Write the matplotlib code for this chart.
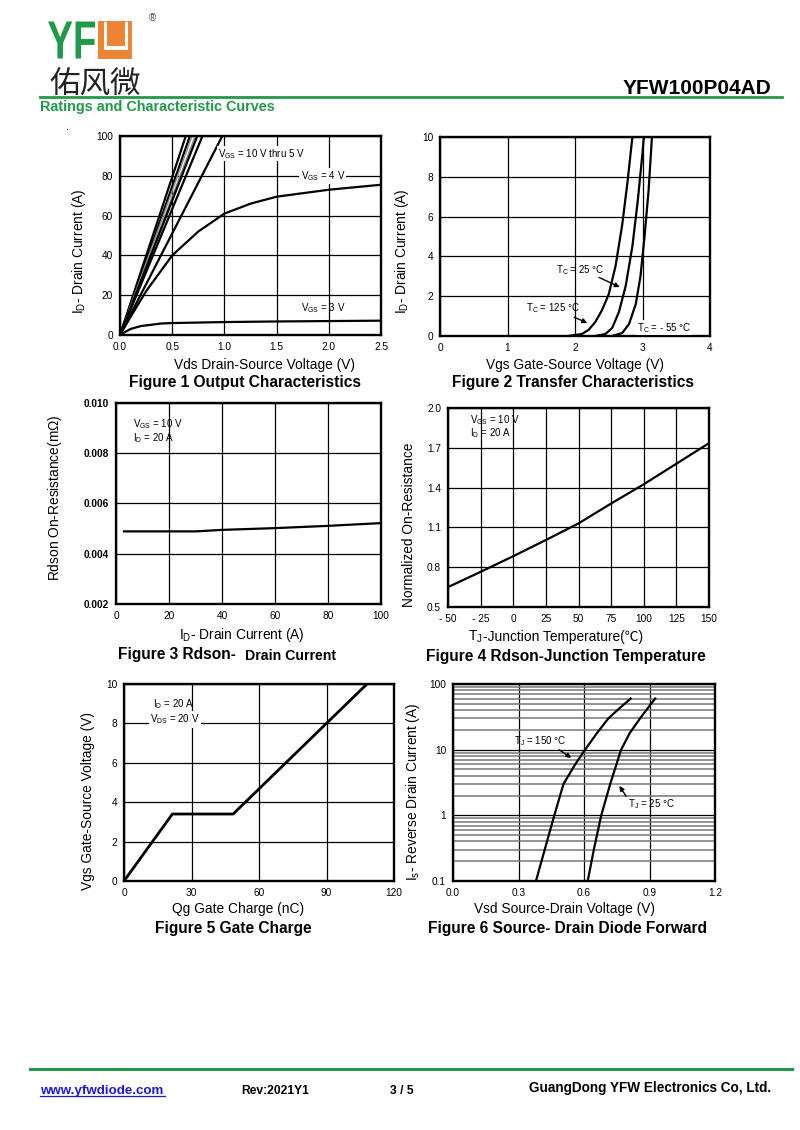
import matplotlib
matplotlib.use('Agg')
import matplotlib.pyplot as plt
import matplotlib.patches as mpatches
from matplotlib.ticker import FixedLocator, NullFormatter
from matplotlib.textpath import TextPath
from matplotlib.font_manager import FontProperties
from matplotlib.transforms import Affine2D, IdentityTransform
import numpy as np

# ─── Data ────────────────────────────────────────────────────────────────────
# Figure 1: output characteristics (Vds in V, Id in A)
F1_BUNDLE_VDS_END = [0.63, 0.67, 0.69, 0.72, 0.74, 0.79, 0.98]   # Vds where each line hits 100 A
F1_BUNDLE_GRAY    = [False, False, True, True, False, False, False]
F1_VGS4_VDS = [0, 0.1, 0.25, 0.5, 0.75, 1.0, 1.25, 1.5, 2.0, 2.5]
F1_VGS4_ID  = [0, 9, 22, 40, 52, 61, 66, 69.5, 73, 75.5]
F1_VGS3_VDS = [0, 0.1, 0.2, 0.4, 0.5, 1.0, 1.5, 2.0, 2.5]
F1_VGS3_ID  = [0, 3, 4.5, 5.8, 6.0, 6.5, 6.8, 7.0, 7.2]

# Figure 2: transfer characteristics (Vgs in V, Id in A)
F2_T125_VGS = [1.9, 2.1, 2.2, 2.3, 2.4, 2.5, 2.6, 2.7, 2.78, 2.85]
F2_T125_ID  = [0, 0.1, 0.3, 0.7, 1.3, 2.1, 3.5, 5.6, 7.8, 10]
F2_T25_VGS  = [2.3, 2.45, 2.55, 2.65, 2.75, 2.85, 2.93, 3.0, 3.02]
F2_T25_ID   = [0, 0.1, 0.4, 1.2, 2.5, 4.5, 6.8, 9.2, 10]
F2_TM55_VGS = [2.55, 2.7, 2.8, 2.9, 2.97, 3.03, 3.09, 3.14]
F2_TM55_ID  = [0, 0.15, 0.6, 1.6, 3.0, 5.0, 7.3, 10]

# Figure 3: Rdson vs drain current
F3_ID    = [3, 20, 30, 40, 60, 80, 100]
F3_RDSON = [0.00489, 0.00489, 0.00489, 0.00495, 0.00502, 0.00511, 0.00522]

# Figure 4: normalized Rdson vs junction temperature
F4_TJ   = [-50, -25, 0, 25, 50, 75, 100, 125, 150]
F4_NORM = [0.65, 0.765, 0.883, 1.005, 1.13, 1.28, 1.425, 1.58, 1.735]

# Figure 5: gate charge
F5_QG  = [0, 21.5, 48.5, 108]
F5_VGS = [0, 3.4, 3.4, 10]

# Figure 6: body diode forward (Vsd in V, Is in A)
F6_T150_VSD = [0.38, 0.42, 0.464, 0.506, 0.56, 0.605, 0.66, 0.712, 0.76, 0.814]
F6_T150_IS  = [0.1, 0.3, 1, 3, 6, 10, 18, 30, 42, 60]
F6_T25_VSD  = [0.617, 0.645, 0.679, 0.72, 0.77, 0.81, 0.857, 0.89, 0.926]
F6_T25_IS   = [0.1, 0.3, 1, 3, 10, 18, 30, 42, 60]

W, H = 800, 1130
GREEN = '#22984a'
ORANGE = '#ec8436'

plt.rcParams.update({
    "font.family": ["Liberation Sans", "DejaVu Sans"],
    "mathtext.fontset": "custom",
    "mathtext.rm": "Liberation Sans",
    "mathtext.it": "Liberation Sans",
    "mathtext.bf": "Liberation Sans:bold",
})

fig = plt.figure(figsize=(W / 100, H / 100), dpi=100)
fig.patch.set_facecolor('white')


def px(x, y):
    return x / W, 1 - y / H


def add_ax(x0, y0, x1, y1):
    return fig.add_axes([x0 / W, 1 - y1 / H, (x1 - x0) / W, (y1 - y0) / H])


def rect(x0, y0, x1, y1, color):
    # pixel box, y measured from the top
    fig.patches.append(mpatches.Rectangle(px(x0, y1), (x1 - x0) / W, (y1 - y0) / H,
                                          transform=fig.transFigure, facecolor=color,
                                          edgecolor='none'))


def style(ax):
    for s in ax.spines.values():
        s.set_linewidth(1.7)
        s.set_color('black')
    ax.grid(True, color='black', linewidth=0.9)
    ax.set_axisbelow(True)
    ax.tick_params(length=0, labelsize=7.3, pad=5)


def fig_text(x, y, s, **kw):
    return fig.text(*px(x, y), s, **kw)


# ─── Header / footer ─────────────────────────────────────────────────────────
# squeezed "YF" letters of the logo
tp = TextPath((0, 0), "YF", size=100, prop=FontProperties(family='Liberation Sans', weight='bold'))
bb = tp.get_extents()
sx, sy = 47 / bb.width, 37 / bb.height
tr = Affine2D().translate(-bb.x0, -bb.y0).scale(sx, sy).translate(48, H - 58.5)
fig.patches.append(mpatches.PathPatch(tp, transform=tr + IdentityTransform(),
                                      facecolor=GREEN, edgecolor='none'))
rect(98, 21.5, 132, 58.5, ORANGE)
rect(104, 21.5, 107.5, 49.5, 'white')
rect(124.5, 21.5, 128, 49.5, 'white')
rect(104, 46, 128, 49.5, 'white')
fig_text(152, 18, "®", fontsize=7, color='#444444', va='center', ha='center')
fig_text(49, 94, "佑风微", fontsize=22, family=['Noto Sans CJK SC'], color='#222222', va='baseline')
fig_text(771, 94, "YFW100P04AD", fontsize=15, fontweight='bold', ha='right', va='baseline')
fig.add_artist(plt.Line2D([40 / W, 782 / W], [1 - 97 / H] * 2, color=GREEN, linewidth=2))
fig_text(40, 111, "Ratings and Characteristic Curves", fontsize=10.4, fontweight='bold',
         color=GREEN, va='baseline')
fig_text(66, 130, ".", fontsize=8)

fig.add_artist(plt.Line2D([30 / W, 792 / W], [1 - 1069 / H] * 2, color=GREEN, linewidth=2.2))
fig_text(40, 1094, "www.yfwdiode.com", fontsize=9.6, fontweight='bold', color='#1a1adf',
         va='baseline')
fig.add_artist(plt.Line2D([40 / W, 165 / W], [1 - 1096 / H] * 2, color='#1a1adf', linewidth=0.9))
fig_text(241, 1094, "Rev:2021Y1", fontsize=8.7, fontweight='bold', va='baseline')
fig_text(390, 1094, "3 / 5", fontsize=8.7, fontweight='bold', va='baseline')
fig_text(771, 1092, "GuangDong YFW Electronics Co, Ltd.", fontsize=9.8, fontweight='bold',
         ha='right', va='baseline')

LABEL_FS = 9.9
TITLE_FS = 11.2

# ─── Figure 1 ────────────────────────────────────────────────────────────────
ax = add_ax(120, 136, 381, 335)
for xe, gray in zip(F1_BUNDLE_VDS_END, F1_BUNDLE_GRAY):
    ax.plot([0, xe], [0, 100], color='#8a8a8a' if gray else 'black',
            linewidth=1.0 if gray else 1.6)
ax.plot(F1_VGS4_VDS, F1_VGS4_ID, color='black', linewidth=1.6)
ax.plot(F1_VGS3_VDS, F1_VGS3_ID, color='black', linewidth=1.6)
ax.set_xlim(0, 2.5)
ax.set_ylim(0, 100)
ax.set_xticks([0, 0.5, 1.0, 1.5, 2.0, 2.5])
ax.set_xticklabels(["0.0", "0.5", "1.0", "1.5", "2.0", "2.5"])
ax.set_yticks([0, 20, 40, 60, 80, 100])
style(ax)
ax.text(0.94, 91, r"$\mathregular{V_{GS}}$ = 10 V thru 5 V", fontsize=7, va='center',
        bbox=dict(facecolor='white', edgecolor='none', pad=0.5))
ax.text(1.73, 80, r"$\mathregular{V_{GS}}$ = 4 V", fontsize=7, va='center',
        bbox=dict(facecolor='white', edgecolor='none', pad=1))
ax.text(1.73, 13.5, r"$\mathregular{V_{GS}}$ = 3 V", fontsize=7, va='center')
ax.set_xlabel("Vds Drain-Source Voltage (V)", fontsize=LABEL_FS, labelpad=4, x=0.552)
ax.set_ylabel(r"I$\mathregular{_D}$- Drain Current (A)", fontsize=LABEL_FS, labelpad=6, y=0.422)
fig_text(245, 383, "Figure 1 Output Characteristics", fontsize=TITLE_FS, fontweight='bold',
         ha='center', va='center')

# ─── Figure 2 ────────────────────────────────────────────────────────────────
ax = add_ax(440, 137, 710, 336)
ax.plot(F2_T125_VGS, F2_T125_ID, color='black', linewidth=1.6)
ax.plot(F2_T25_VGS, F2_T25_ID, color='black', linewidth=1.6)
ax.plot(F2_TM55_VGS, F2_TM55_ID, color='black', linewidth=1.6)
ax.set_xlim(0, 4)
ax.set_ylim(0, 10)
ax.set_xticks([0, 1, 2, 3, 4])
ax.set_yticks([0, 2, 4, 6, 8, 10])
style(ax)
ax.text(1.72, 3.3, r"T$\mathregular{_C}$ = 25 °C", fontsize=7, va='center')
ax.annotate("", xy=(2.7, 2.4), xytext=(2.32, 3.0),
            arrowprops=dict(arrowstyle='-|>', color='black', lw=1, mutation_scale=7))
ax.text(1.28, 1.4, r"T$\mathregular{_C}$ = 125 °C", fontsize=7, va='center')
ax.annotate("", xy=(2.22, 0.6), xytext=(1.95, 1.0),
            arrowprops=dict(arrowstyle='-|>', color='black', lw=1, mutation_scale=7))
ax.text(2.92, 0.42, r"T$\mathregular{_C}$ = - 55 °C", fontsize=7, va='center',
        bbox=dict(facecolor='white', edgecolor='none', pad=0.5))
ax.set_xlabel("Vgs Gate-Source Voltage (V)", fontsize=LABEL_FS, labelpad=4)
ax.set_ylabel(r"I$\mathregular{_D}$- Drain Current (A)", fontsize=LABEL_FS, labelpad=8, y=0.427)
fig_text(573, 383, "Figure 2 Transfer Characteristics", fontsize=TITLE_FS, fontweight='bold',
         ha='center', va='center')

# ─── Figure 3 ────────────────────────────────────────────────────────────────
ax = add_ax(116, 403, 381, 604)
ax.plot(F3_ID, F3_RDSON, color='black', linewidth=1.6)
ax.set_xlim(0, 100)
ax.set_ylim(0.002, 0.010)
ax.set_xticks([0, 20, 40, 60, 80, 100])
ax.set_yticks([0.002, 0.004, 0.006, 0.008, 0.010])
ax.set_yticklabels(["0.002", "0.004", "0.006", "0.008", "0.010"], fontweight='bold')
style(ax)
ax.text(6.5, 0.00917, r"$\mathregular{V_{GS}}$ = 10 V", fontsize=7, va='center')
ax.text(6.5, 0.00862, r"$\mathregular{I_D}$ = 20 A", fontsize=7, va='center')
ax.set_xlabel(r"I$\mathregular{_D}$- Drain Current (A)", fontsize=LABEL_FS, labelpad=4, x=0.476)
ax.set_ylabel(r"Rdson On-Resistance(m$\mathregular{\Omega}$)", fontsize=LABEL_FS, labelpad=14,
              y=0.527)
fig_text(118, 655, "Figure 3 Rdson-", fontsize=TITLE_FS, fontweight='bold', va='center')
fig_text(245, 656, "Drain Current", fontsize=10.2, fontweight='bold', va='center')

# ─── Figure 4 ────────────────────────────────────────────────────────────────
ax = add_ax(448, 408, 709, 607)
ax.plot(F4_TJ, F4_NORM, color='black', linewidth=1.6)
ax.set_xlim(-50, 150)
ax.set_ylim(0.5, 2.0)
ax.set_xticks([-50, -25, 0, 25, 50, 75, 100, 125, 150])
ax.set_xticklabels(["- 50", "- 25", "0", "25", "50", "75", "100", "125", "150"])
ax.set_yticks([0.5, 0.8, 1.1, 1.4, 1.7, 2.0])
ax.set_yticklabels(["0.5", "0.8", "1.1", "1.4", "1.7", "2.0"])
style(ax)
ax.text(-33, 1.91, r"$\mathregular{V_{GS}}$ = 10 V", fontsize=7, va='center')
ax.text(-33, 1.81, r"$\mathregular{I_D}$ = 20 A", fontsize=7, va='center')
# x label in two pieces: mathtext for the subscript, plain text for the ℃ sign
lab4 = fig_text(483, 641, "-Junction Temperature(℃)", fontsize=LABEL_FS, va='baseline',
                family=['Liberation Sans', 'Noto Sans CJK SC', 'DejaVu Sans'])
fig.canvas.draw()
lb = lab4.get_window_extent()
fig.text(lb.x0 / W, 1 - 641 / H, r"T$\mathregular{_J}$", fontsize=LABEL_FS, va='baseline',
         ha='right')
ax.set_ylabel("Normalized On-Resistance", fontsize=LABEL_FS, labelpad=8, y=0.412)
fig_text(566, 656, "Figure 4 Rdson-Junction Temperature", fontsize=TITLE_FS, fontweight='bold',
         ha='center', va='center')

# ─── Figure 5 ────────────────────────────────────────────────────────────────
ax = add_ax(124, 684, 394, 881)
ax.plot(F5_QG, F5_VGS, color='black', linewidth=2.0)
ax.set_xlim(0, 120)
ax.set_ylim(0, 10)
ax.set_xticks([0, 30, 60, 90, 120])
ax.set_yticks([0, 2, 4, 6, 8, 10])
style(ax)
ax.text(13, 9.0, r"$\mathregular{I_D}$ = 20 A", fontsize=7, va='center')
ax.text(11.5, 8.2, r"$\mathregular{V_{DS}}$ = 20 V", fontsize=7, va='center',
        bbox=dict(facecolor='white', edgecolor='none', pad=1))
ax.set_xlabel("Qg Gate Charge (nC)", fontsize=LABEL_FS, labelpad=3, x=0.421)
ax.set_ylabel("Vgs Gate-Source Voltage (V)", fontsize=LABEL_FS, labelpad=8, y=0.406)
fig_text(233, 929, "Figure 5 Gate Charge", fontsize=TITLE_FS, fontweight='bold',
         ha='center', va='center')

# ─── Figure 6 ────────────────────────────────────────────────────────────────
ax = add_ax(453, 684, 715, 881)
ax.plot(F6_T150_VSD, F6_T150_IS, color='black', linewidth=1.6)
ax.plot(F6_T25_VSD, F6_T25_IS, color='black', linewidth=1.6)
ax.set_yscale('log')
ax.set_xlim(0, 1.2)
ax.set_ylim(0.1, 100)
ax.set_xticks([0, 0.3, 0.6, 0.9, 1.2])
ax.set_xticklabels(["0.0", "0.3", "0.6", "0.9", "1.2"])
ax.set_yticks([0.1, 1, 10, 100])
ax.set_yticklabels(["0.1", "1", "10", "100"])
minors = [m * d for d in (0.1, 1, 10) for m in range(2, 10)]
ax.yaxis.set_minor_locator(FixedLocator(minors))
ax.yaxis.set_minor_formatter(NullFormatter())
style(ax)
ax.tick_params(which='minor', length=0)
ax.grid(True, which='minor', axis='y', color='#777777', linewidth=1.1)
ax.text(0.28, 13.7, r"T$\mathregular{_J}$ = 150 °C", fontsize=7, va='center')
ax.annotate("", xy=(0.552, 7.1), xytext=(0.476, 10.5),
            arrowprops=dict(arrowstyle='-|>', color='black', lw=1, mutation_scale=7))
ax.text(0.80, 1.5, r"T$\mathregular{_J}$ = 25 °C", fontsize=7, va='center')
ax.annotate("", xy=(0.755, 3.05), xytext=(0.80, 1.8),
            arrowprops=dict(arrowstyle='-|>', color='black', lw=1, mutation_scale=7))
ax.set_xlabel("Vsd Source-Drain Voltage (V)", fontsize=LABEL_FS, labelpad=3, x=0.424)
ax.set_ylabel(r"I$\mathregular{_s}$- Reverse Drain Current (A)", fontsize=LABEL_FS, labelpad=5,
              y=0.452)
fig_text(568, 929, "Figure 6 Source- Drain Diode Forward", fontsize=TITLE_FS, fontweight='bold',
         ha='center', va='center')

fig.savefig("out.png", dpi=100, facecolor='white')
